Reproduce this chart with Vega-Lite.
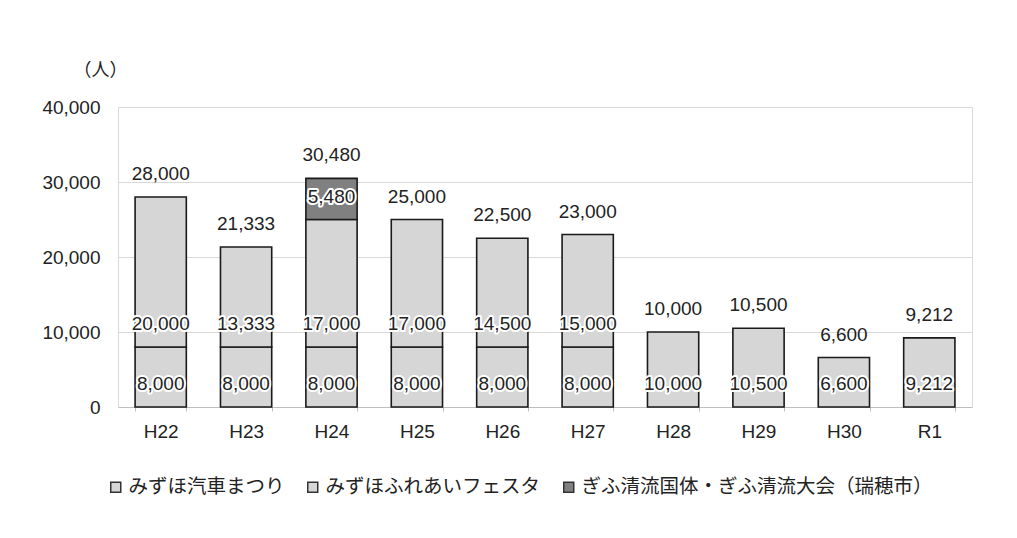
{
  "$schema": "https://vega.github.io/schema/vega-lite/v6.json",
  "width": 854,
  "height": 300,
  "autosize": {"type": "none"},
  "padding": {"left": 118, "top": 107, "right": 45, "bottom": 131},
  "background": "white",
  "config": {
    "view": {"stroke": "#d9d9d9", "strokeWidth": 1},
    "font": "Liberation Sans",
    "axis": {"labelFont": "Liberation Sans", "labelFontSize": 19, "labelColor": "#222222"}
  },
  "data": {
    "values": [
      {"year": "H22", "series": "みずほ汽車まつり", "value": 8000},
      {"year": "H22", "series": "みずほふれあいフェスタ", "value": 20000},
      {"year": "H23", "series": "みずほ汽車まつり", "value": 8000},
      {"year": "H23", "series": "みずほふれあいフェスタ", "value": 13333},
      {"year": "H24", "series": "みずほ汽車まつり", "value": 8000},
      {"year": "H24", "series": "みずほふれあいフェスタ", "value": 17000},
      {"year": "H24", "series": "ぎふ清流国体・ぎふ清流大会（瑞穂市）", "value": 5480},
      {"year": "H25", "series": "みずほ汽車まつり", "value": 8000},
      {"year": "H25", "series": "みずほふれあいフェスタ", "value": 17000},
      {"year": "H26", "series": "みずほ汽車まつり", "value": 8000},
      {"year": "H26", "series": "みずほふれあいフェスタ", "value": 14500},
      {"year": "H27", "series": "みずほ汽車まつり", "value": 8000},
      {"year": "H27", "series": "みずほふれあいフェスタ", "value": 15000},
      {"year": "H28", "series": "みずほふれあいフェスタ", "value": 10000},
      {"year": "H29", "series": "みずほふれあいフェスタ", "value": 10500},
      {"year": "H30", "series": "みずほふれあいフェスタ", "value": 6600},
      {"year": "R1", "series": "みずほふれあいフェスタ", "value": 9212}
    ]
  },
  "transform": [
    {"stack": "value", "groupby": ["year"], "sort": [{"field": "series", "order": "descending"}], "as": ["v0", "v1"]}
  ],
  "encoding": {
    "x": {
      "field": "year", "type": "nominal", "sort": null,
      "scale": {"paddingInner": 0.4, "paddingOuter": 0.2},
      "axis": {"title": null, "labelAngle": 0, "labelPadding": 11, "domainColor": "#bfbfbf", "tickColor": "#bfbfbf", "tickSize": 4, "tickBand": "extent", "grid": false}
    }
  },
  "layer": [
    {
      "mark": {"type": "bar", "stroke": "#1a1a1a", "strokeWidth": 1.6},
      "encoding": {
        "y": {
          "field": "v0", "type": "quantitative",
          "scale": {"domain": [0, 40000]},
          "axis": {
            "values": [0, 10000, 20000, 30000, 40000], "format": ",d",
            "title": "（人）", "titleAngle": 0, "titleX": -18, "titleY": -37,
            "titleAlign": "center", "titleBaseline": "middle", "titleFont": "Noto Sans CJK JP",
            "titleFontSize": 18, "titleFontWeight": "normal", "titleColor": "#222222",
            "domain": false, "ticks": false, "labelPadding": 18,
            "gridColor": "#d9d9d9", "gridWidth": 1.2
          }
        },
        "y2": {"field": "v1"},
        "color": {
          "field": "series", "type": "nominal",
          "scale": {
            "domain": ["みずほ汽車まつり", "みずほふれあいフェスタ", "ぎふ清流国体・ぎふ清流大会（瑞穂市）"],
            "range": ["#d6d6d6", "#d6d6d6", "#808080"]
          },
          "legend": {
            "title": null, "orient": "none", "direction": "horizontal",
            "legendX": -12, "legendY": 370,
            "labelFont": "Noto Sans CJK JP", "labelFontSize": 19.5, "labelColor": "#222222",
            "symbolType": "square", "symbolSize": 100, "symbolStrokeColor": "#333333",
            "symbolStrokeWidth": 1.5, "symbolOpacity": 1, "columnPadding": 18, "labelOffset": 3,
            "labelLimit": 500
          }
        }
      }
    },
    {
      "mark": {"type": "text", "fontSize": 19, "baseline": "alphabetic", "dy": -17, "stroke": "white", "strokeWidth": 4, "strokeJoin": "round", "font": "Liberation Sans"},
      "encoding": {
        "y": {"field": "v0", "type": "quantitative"},
        "text": {"field": "value", "type": "quantitative", "format": ",d"}
      }
    },
    {
      "mark": {"type": "text", "fontSize": 19, "baseline": "alphabetic", "dy": -17, "color": "#222222", "font": "Liberation Sans"},
      "encoding": {
        "y": {"field": "v0", "type": "quantitative"},
        "text": {"field": "value", "type": "quantitative", "format": ",d"}
      }
    },
    {
      "transform": [{"aggregate": [{"op": "sum", "field": "value", "as": "total"}], "groupby": ["year"]}],
      "mark": {"type": "text", "fontSize": 19, "baseline": "alphabetic", "dy": -17, "color": "#222222", "font": "Liberation Sans"},
      "encoding": {
        "y": {"field": "total", "type": "quantitative"},
        "text": {"field": "total", "type": "quantitative", "format": ",d"}
      }
    }
  ]
}
